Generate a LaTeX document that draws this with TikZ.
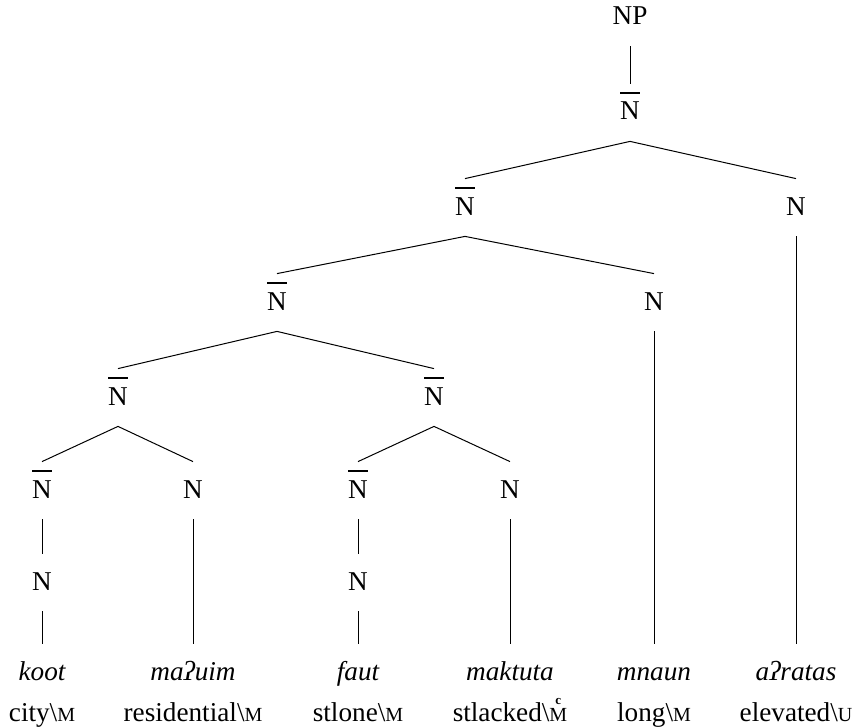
\documentclass[tikz,border=0pt]{standalone}
\usepackage{fontspec}
\setmainfont{Liberation Serif}
\usetikzlibrary{positioning}
% N with a bar over it
\newcommand\Nbar{\ooalign{N\cr\leaders\hrule height 13.9pt depth -13.0pt\hfill\cr}}
% fake small capitals
\newcommand\smc[1]{{\fontsize{10}{11}\selectfont #1}}
\newcommand\Mc{\ooalign{\smc{M}\cr\hidewidth\raisebox{8.4pt}{\fontsize{6.5}{7}\selectfont\bfseries c}\hidewidth\cr}}

\begin{document}
\begin{tikzpicture}[
    x=0.5pt, y=-0.5pt,
    tnode/.style={inner sep=0pt, text height=18pt, text depth=10.5pt,
      anchor=base, font=\fontsize{13.6}{15}\selectfont},
    word/.style={tnode, font=\fontsize{13.6}{15}\selectfont\itshape},
    gloss/.style={inner sep=0pt, anchor=base, font=\fontsize{13.6}{15}\selectfont},
    branch/.style={line width=0.5pt},
]
\useasboundingbox (0,0) rectangle (861,727);
% Nodes
\node[tnode] (np)  at (630,25)  {NP};
\node[tnode] (nb0) at (630,120) {\Nbar};
\node[tnode] (nb1) at (465,215) {\Nbar};
\node[tnode] (n1)  at (796,215) {N};
\node[tnode] (nb2) at (277,310) {\Nbar};
\node[tnode] (n2)  at (654,310) {N};
\node[tnode] (nb3) at (118,405) {\Nbar};
\node[tnode] (nb4) at (434,405) {\Nbar};
\node[tnode] (nb5) at (42,498)  {\Nbar};
\node[tnode] (n5)  at (193,498) {N};
\node[tnode] (nb6) at (358,498) {\Nbar};
\node[tnode] (n6)  at (510,498) {N};
\node[tnode] (n7)  at (42,590)  {N};
\node[tnode] (n8)  at (358,590) {N};
% Leaves
\node[word] (koot)    at (42,680)  {koot};
\node[word] (mauim)   at (193,680) {maʔuim};
\node[word] (faut)    at (358,680) {faut};
\node[word] (maktuta) at (510,680) {maktuta};
\node[word] (mnaun)   at (654,680) {mnaun};
\node[word] (aratas)  at (796,680) {aʔratas};
\node[gloss] (gcity)   at (42,721)  {city\textbackslash\smc{M}};
\node[gloss] (gresid)  at (193,721) {residential\textbackslash\smc{M}};
\node[gloss] (gstlone) at (358,721) {stlone\textbackslash\smc{M}};
\node[gloss] (gstlack) at (510,721) {stlacked\textbackslash\Mc};
\node[gloss] (glong)   at (654,721) {long\textbackslash\smc{M}};
\node[gloss] (gelev)   at (796,721) {elevated\textbackslash\smc{U}};
% Branches
\draw[branch] (np.south) -- (nb0.north);
\draw[branch] (nb1.north) -- (nb0.south) -- (n1.north);
\draw[branch] (nb2.north) -- (nb1.south) -- (n2.north);
\draw[branch] (nb3.north) -- (nb2.south) -- (nb4.north);
\draw[branch] (nb5.north) -- (nb3.south) -- (n5.north);
\draw[branch] (nb6.north) -- (nb4.south) -- (n6.north);
\draw[branch] (nb5.south) -- (n7.north);
\draw[branch] (nb6.south) -- (n8.north);
\draw[branch] (n7.south) -- (koot.north);
\draw[branch] (n5.south) -- (mauim.north);
\draw[branch] (n8.south) -- (faut.north);
\draw[branch] (n6.south) -- (maktuta.north);
\draw[branch] (n2.south) -- (mnaun.north);
\draw[branch] (n1.south) -- (aratas.north);
\end{tikzpicture}
\end{document}
